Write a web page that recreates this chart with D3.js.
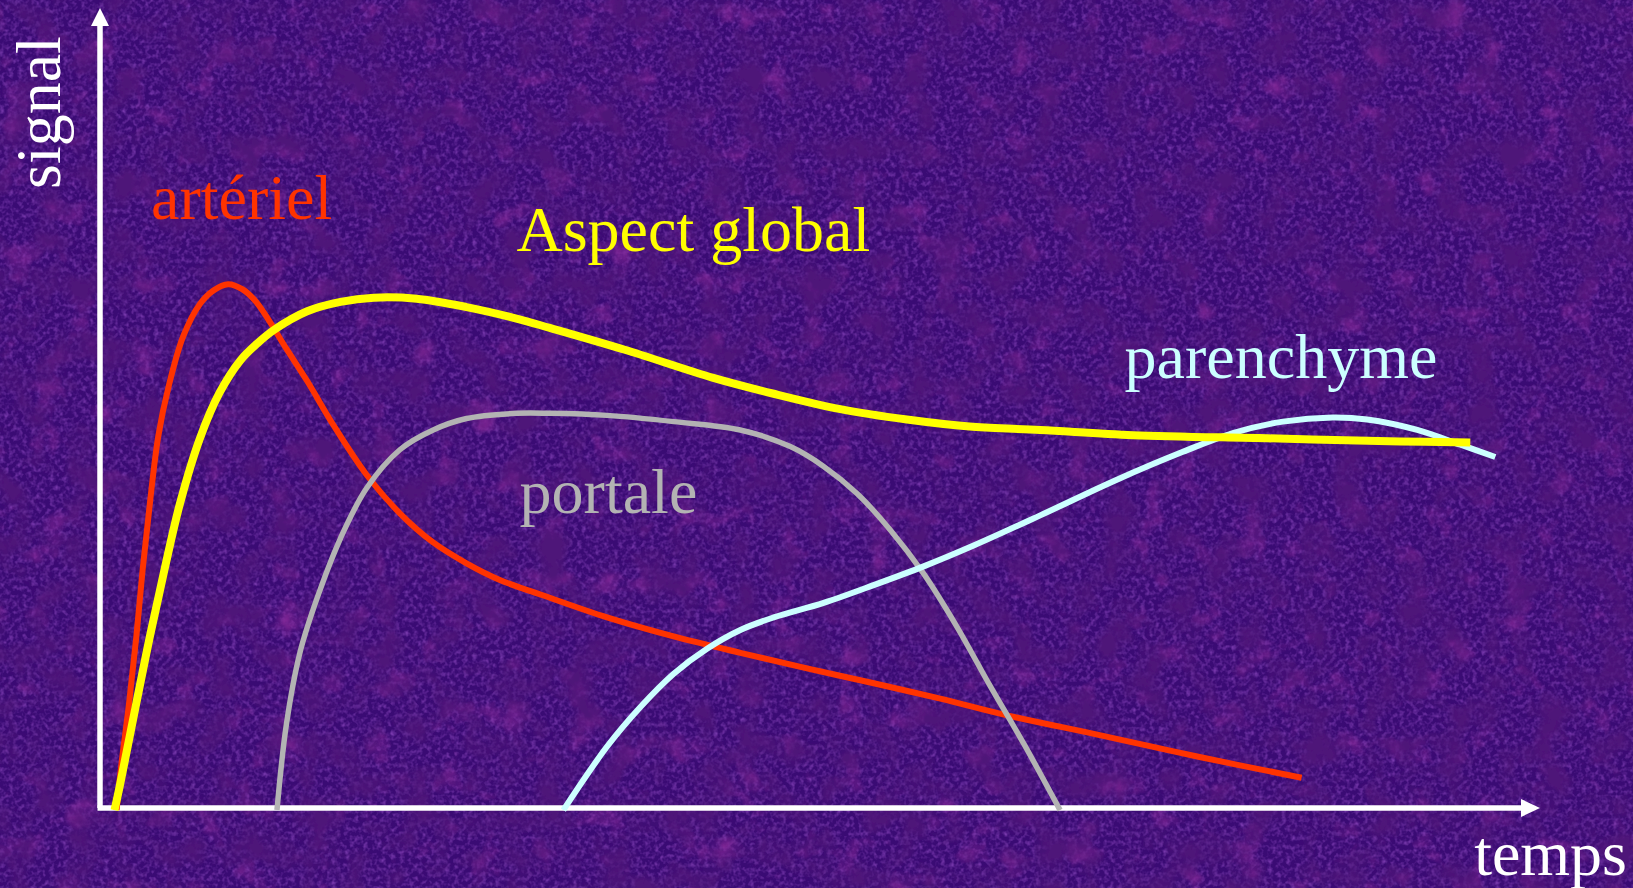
<!DOCTYPE html>
<html>
<head>
<meta charset="utf-8">
<script src="https://cdn.jsdelivr.net/npm/d3@7"></script>
<style>
  html, body { margin: 0; padding: 0; background: #3a0b74; overflow: hidden; }
  svg { display: block; }
</style>
</head>
<body>
<svg id="chart"></svg>
<script>
// time (arbitrary units) / signal (arbitrary units)
const arteriel = [
  [1.5, -0.2], [1.9, 3.7], [2.7, 10.1], [3.4, 16.5], [4.0, 22.9], [4.7, 29.3], [5.5, 35.7],
  [6.5, 40.5], [7.9, 45.3], [9.5, 48.4], [10.8, 49.7], [12.2, 50.3], [13.6, 49.8],
  [14.9, 48.6], [16.2, 46.7], [17.8, 44.1], [19.8, 41.0], [22.3, 36.8], [25.5, 32.0],
  [28.7, 28.3], [31.9, 25.5], [35.1, 23.5], [38.3, 21.9], [42.2, 20.5], [48.6, 18.3],
  [54.9, 16.5], [61.4, 14.9], [67.8, 13.4], [74.1, 12.0], [80.6, 10.5], [87.0, 8.9],
  [95.9, 7.0], [105.5, 4.9], [115.3, 2.9]
]
const global = [
  [1.3, -0.2], [1.8, 2.1], [3.4, 10.1], [4.7, 16.5], [6.1, 22.9], [7.6, 29.3], [9.5, 35.5],
  [11.4, 39.9], [13.4, 43.0], [15.0, 44.6], [16.6, 45.9], [19.8, 47.7], [23.0, 48.6],
  [26.2, 49.0], [30.3, 48.9], [35.1, 48.1], [39.9, 47.0], [43.1, 46.1], [50.3, 44.0],
  [58.8, 41.3], [64.5, 39.8], [71.0, 38.3], [77.4, 37.3], [83.7, 36.6], [90.2, 36.3],
  [99.1, 35.8], [112.0, 35.5], [124.8, 35.2], [131.5, 35.1]
]
const portale = [
  [16.9, -0.2], [17.8, 8.0], [19.1, 14.9], [20.7, 20.0], [23.0, 25.9], [25.5, 30.7],
  [28.7, 34.4], [31.9, 36.3], [35.1, 37.4], [39.9, 37.9], [43.1, 37.9], [48.6, 37.7],
  [55.0, 37.1], [61.4, 36.3], [66.2, 34.7], [69.4, 32.8], [72.6, 30.2], [75.8, 26.7],
  [79.0, 22.5], [82.2, 17.4], [85.4, 11.7], [88.6, 6.2], [92.1, -0.2]
]
const parenchyme = [
  [44.4, -0.2], [48.6, 5.9], [51.8, 9.7], [55.0, 12.9], [58.2, 15.3], [61.4, 17.1],
  [64.6, 18.3], [69.4, 19.7], [74.2, 21.4], [79.0, 23.2], [83.8, 25.2], [90.2, 28.1],
  [97.5, 31.5], [103.9, 34.2], [108.7, 36.0], [113.5, 37.1], [118.3, 37.5], [121.6, 37.3],
  [126.4, 36.3], [130.5, 34.9], [133.9, 33.7]
]
const series = [
  { name: 'arteriel', values: arteriel, color: '#ff3300', width: 6 },
  { name: 'portale', values: portale, color: '#b3b3b3', width: 5.5 },
  { name: 'parenchyme', values: parenchyme, color: '#ccffff', width: 6 },
  { name: 'global', values: global, color: '#ffff00', width: 8 }
]
const labels = [
  { text: 'artériel', t: 4.8, s: 56.6, color: '#ff3300' },
  { text: 'Aspect global', t: 39.9, s: 53.5, color: '#ffff00' },
  { text: 'parenchyme', t: 98.3, s: 41.3, color: '#ccffff' },
  { text: 'portale', t: 40.2, s: 28.3, color: '#b3b3b3' }
]
const xLabel = 'temps'
const yLabel = 'signal'

const width = 1633
const height = 888
const svg = d3.select('#chart').attr('width', width).attr('height', height)

const xScale = d3.scaleLinear().domain([0, 138]).range([101, 1538])
const yScale = d3.scaleLinear().domain([0, 76]).range([808, 16.5])

// mottled purple background
const defs = svg.append('defs')
const f = defs.append('filter').attr('id', 'tex')
  .attr('x', 0).attr('y', 0).attr('width', '100%').attr('height', '100%')
f.append('feTurbulence').attr('type', 'fractalNoise').attr('baseFrequency', 0.03)
  .attr('numOctaves', 4).attr('seed', 3).attr('result', 'n1')
f.append('feColorMatrix').attr('in', 'n1').attr('type', 'matrix')
  .attr('values', '0 0 0 0 0.10  0 0 0 0 0.01  0 0 0 0 0.20  -2.8 0 0 0 1.6')
  .attr('result', 'dark')
f.append('feTurbulence').attr('type', 'fractalNoise').attr('baseFrequency', 0.22)
  .attr('numOctaves', 2).attr('seed', 11).attr('result', 'n2')
f.append('feColorMatrix').attr('in', 'n2').attr('type', 'matrix')
  .attr('values', '0 0 0 0 0.34  0 0 0 0 0.09  0 0 0 0 0.62  0 0 2.0 0 -0.85')
  .attr('result', 'light')
f.append('feColorMatrix').attr('in', 'n1').attr('type', 'matrix')
  .attr('values', '0 0 0 0 0.42  0 0 0 0 0.04  0 0 0 0 0.40  0 2.4 0 0 -1.4')
  .attr('result', 'mag')
const m = f.append('feMerge')
m.append('feMergeNode').attr('in', 'light')
m.append('feMergeNode').attr('in', 'mag')
m.append('feMergeNode').attr('in', 'dark')

svg.append('rect').attr('width', width).attr('height', height).attr('fill', '#3a0b74')
svg.append('rect').attr('width', width).attr('height', height).attr('filter', 'url(#tex)')
  .attr('opacity', 0.65)

// axes with arrow heads
const axes = svg.append('g').attr('fill', '#fff').attr('stroke', '#fff')
axes.append('line').attr('x1', 97.5).attr('x2', 1524).attr('y1', yScale(0)).attr('y2', yScale(0))
  .attr('stroke-width', 5.5)
axes.append('line').attr('x1', 100).attr('x2', 100).attr('y1', yScale(0)).attr('y2', 22)
  .attr('stroke-width', 5.5)
axes.append('path').attr('stroke', 'none')
  .attr('d', `M1540,${yScale(0)} L1521,${yScale(0) - 9} L1521,${yScale(0) + 9} Z`)
axes.append('path').attr('stroke', 'none')
  .attr('d', 'M100,8 L91,26 L109,26 Z')

const line = d3.line()
  .x(d => xScale(d[0]))
  .y(d => yScale(d[1]))
  .curve(d3.curveCatmullRom.alpha(0.5))

svg.append('g').selectAll('path')
  .data(series)
  .join('path')
  .attr('d', d => line(d.values))
  .attr('fill', 'none')
  .attr('stroke', d => d.color)
  .attr('stroke-width', d => d.width)
  .attr('stroke-linejoin', 'round')

const font = '"Liberation Serif", "Times New Roman", serif'

svg.append('g').selectAll('text')
  .data(labels)
  .join('text')
  .attr('x', d => xScale(d.t))
  .attr('y', d => yScale(d.s))
  .attr('fill', d => d.color)
  .style('font-family', font)
  .style('font-size', '64px')
  .text(d => d.text)

svg.append('text')
  .attr('x', 1627).attr('y', 875)
  .attr('text-anchor', 'end')
  .attr('fill', '#fff')
  .style('font-family', font)
  .style('font-size', '64px')
  .text(xLabel)

svg.append('text')
  .attr('transform', 'translate(60,189) rotate(-90)')
  .attr('fill', '#fff')
  .style('font-family', font)
  .style('font-size', '64px')
  .text(yLabel)
</script>
</body>
</html>
